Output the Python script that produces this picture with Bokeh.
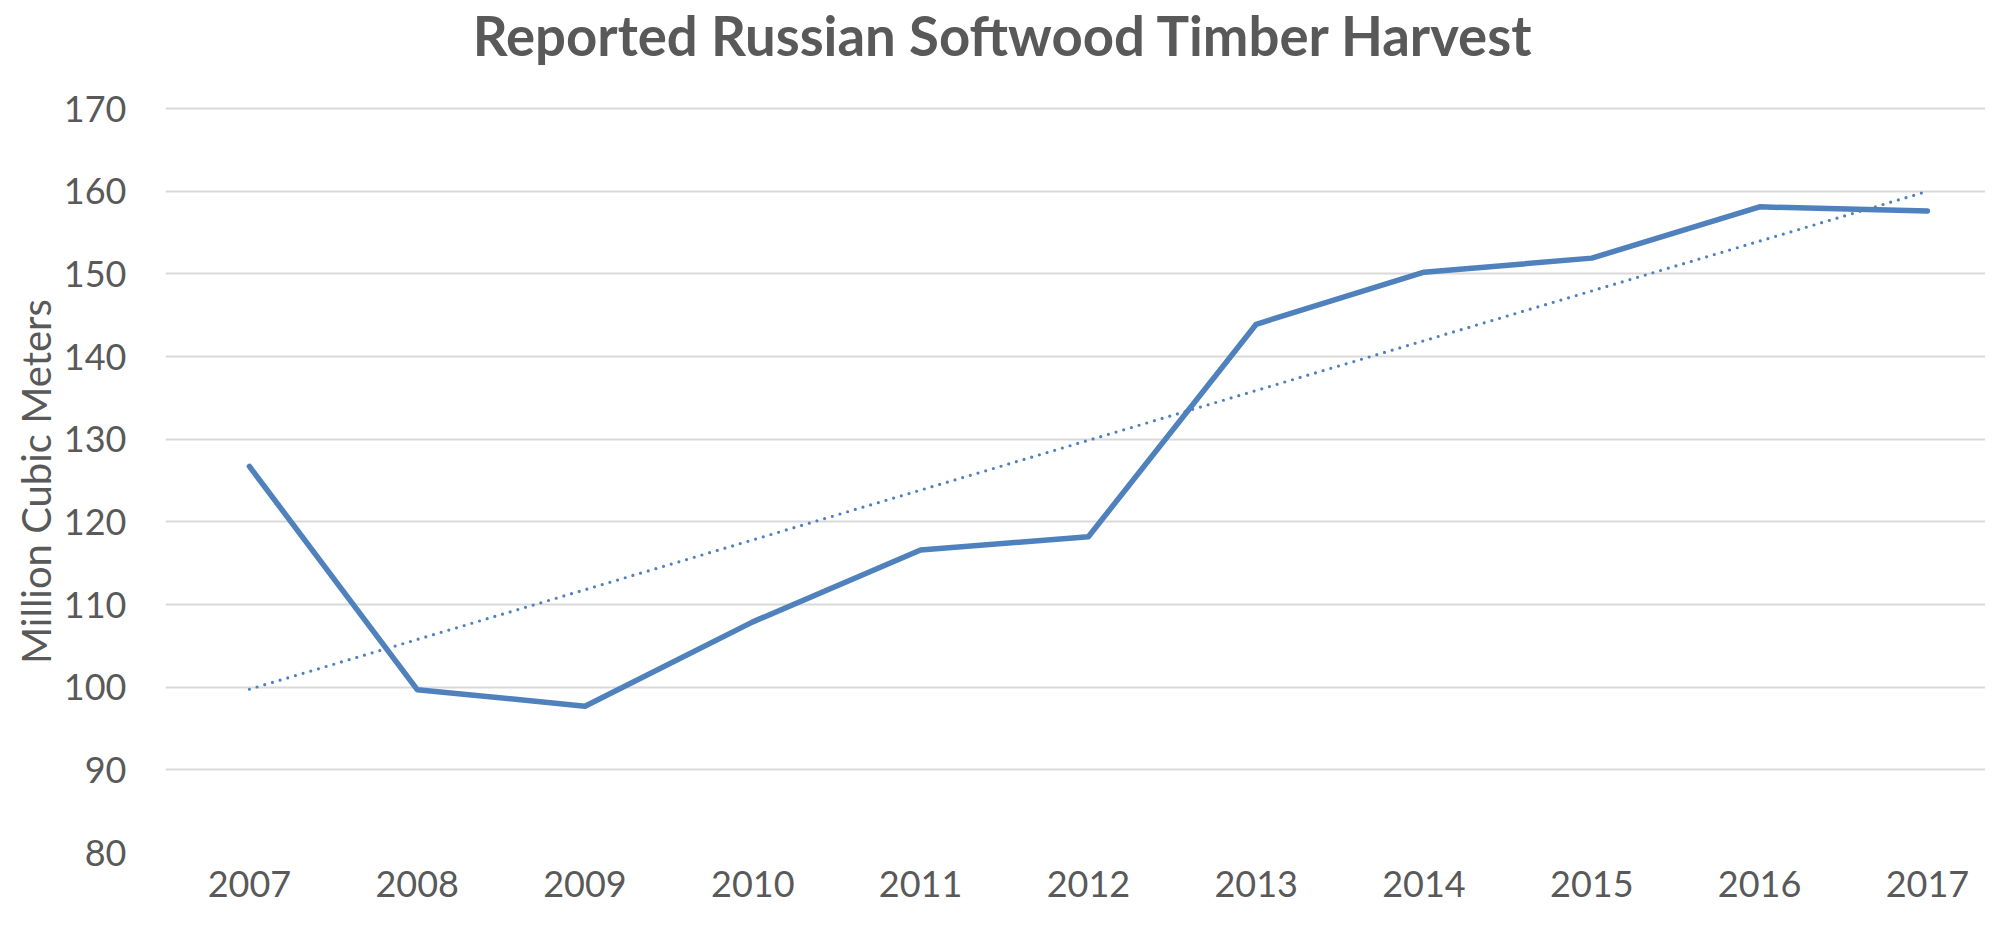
import numpy as np
from bokeh.plotting import figure
from bokeh.models import FixedTicker, Range1d, Label, Title
from bokeh.embed import file_html
from bokeh.resources import INLINE

# ---- data ----
title_text = "Reported Russian Softwood Timber Harvest"
y_label = "Million Cubic Meters"
years = [2007, 2008, 2009, 2010, 2011, 2012, 2013, 2014, 2015, 2016, 2017]
harvest = [126.7, 99.7, 97.7, 107.9, 116.6, 118.2, 143.9, 150.2, 151.9, 158.1, 157.6]
y_ticks = [80, 90, 100, 110, 120, 130, 140, 150, 160, 170]

# linear trend line (least squares fit of the series)
slope, intercept = np.polyfit(years, harvest, 1)
trend_x = [years[0], years[-1]]
trend_y = [slope * x + intercept for x in trend_x]

# ---- layout (pixels) ----
W, H = 1985, 910
frame_left = 165          # left edge of plot area
bottom_border = 58
top_gap = 108             # space above the 170 gridline (holds the title)
frame_w = W - frame_left
frame_h = H - bottom_border
grid_h = frame_h - top_gap
px_per_year = 167.8
ppu = grid_h / (y_ticks[-1] - y_ticks[0])
x_start = years[0] - 0.5
x_end = x_start + frame_w / px_per_year
y_end = y_ticks[-1] + top_gap / ppu

TEXT = "#595959"
BLUE = "#4F81BD"
FONT = "Lato"

p = figure(width=W, height=H, output_backend="svg", toolbar_location=None,
           x_range=Range1d(x_start, x_end), y_range=Range1d(y_ticks[0], y_end),
           min_border_left=frame_left, min_border_right=0, min_border_top=0,
           min_border_bottom=bottom_border)
p.outline_line_color = None
p.background_fill_color = "white"
p.border_fill_color = "white"
p.title.visible = False

# axes
p.xaxis.ticker = FixedTicker(ticks=years)
p.xaxis.major_label_overrides = {y: str(y) for y in years}
p.yaxis.ticker = FixedTicker(ticks=y_ticks)
for ax in (p.xaxis, p.yaxis):
    ax.axis_line_color = None
    ax.major_tick_line_color = None
    ax.minor_tick_line_color = None
    ax.major_label_text_font = FONT
    ax.major_label_text_font_size = "36px"
    ax.major_label_text_color = TEXT
p.xaxis.major_label_standoff = 12
p.yaxis.major_label_standoff = 33

# y-axis title, centred on the 80..170 span (frame extends above it for the chart title)
ylab_len = 359
ylab_offset = grid_h / 2 - ylab_len / 2 - 4
p.add_layout(Title(text=y_label, align="left", offset=ylab_offset, text_font=FONT,
                   text_font_size="40px", text_font_style="normal", text_color=TEXT,
                   standoff=2), "left")

p.xgrid.grid_line_color = None
p.ygrid.grid_line_color = "#D9D9D9"
p.ygrid.grid_line_width = 2

# series
p.line(years, harvest, line_color=BLUE, line_width=5.5, line_join="round", line_cap="round")
p.line(trend_x, trend_y, line_color=BLUE, line_width=3.2, line_dash="0 8", line_cap="round")

# chart title, centred on the page, in the space above the top gridline
title_x = x_start + (1003 - frame_left) / px_per_year
title_y = y_ticks[-1] + 74 / ppu
p.add_layout(Label(x=title_x, y=title_y, text=title_text, text_align="center",
                   text_baseline="alphabetic", text_font=FONT, text_font_style="bold",
                   text_font_size="54.5px", text_color=TEXT))

open("out.html", "w").write(file_html(p, INLINE))
